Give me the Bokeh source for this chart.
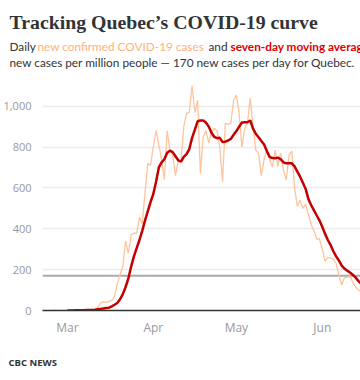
import pandas as pd
from bokeh.plotting import figure
from bokeh.layouts import column
from bokeh.models import Span, FixedTicker, DatetimeTickFormatter, Range1d, NumeralTickFormatter
from bokeh.core.properties import value
from bokeh.embed import file_html
from bokeh.resources import INLINE

# ---- data ----
daily_start = "2020-02-24"
avg_start = "2020-03-01"

daily_cases = [
    0, 0, 1, 1, 0, 1,
    0, 1, 0, 1, 2, 1, 2, 3, 4, 5,
    6, 15, 38, 42, 40, 45, 48, 70, 130, 175,
    215, 340, 280, 370, 378, 378, 456, 425, 575, 720,
    710, 800, 882, 810, 740, 640, 880, 784, 760, 660,
    735, 735, 900, 965, 970, 1100, 970, 1030, 671, 848,
    880, 820, 870, 892, 880, 800, 630, 917, 910, 917,
    1030, 1054, 960, 800, 890, 917, 1039, 900, 784, 770,
    660, 740, 784, 740, 701, 784, 705, 770, 686, 640,
    760, 780, 600, 510, 540, 500, 520, 470, 420, 390,
    350, 350, 300, 240, 260, 258, 250, 230, 175, 125,
    160, 162, 168, 140, 115, 100, 95,
]

moving_avg = [
    0, 0, 0, 1, 1, 1, 1, 2, 2, 3,
    4, 6, 8, 10, 12, 14, 20, 28, 37, 55,
    80, 115, 157, 215, 265, 305, 345, 390, 440, 485,
    530, 570, 630, 700, 725, 740, 772, 782, 775, 755,
    735, 728, 752, 765, 790, 845, 885, 926, 930, 930,
    920, 900, 870, 850, 843, 845, 824, 826, 832, 840,
    860, 878, 900, 920, 921, 921, 930, 890, 865, 848,
    830, 812, 780, 752, 746, 745, 748, 740, 725, 720,
    720, 720, 705, 680, 655, 625, 595, 545, 515, 490,
    465, 440, 410, 375, 345, 320, 290, 265, 245, 220,
    205, 195, 186, 175, 162, 145, 132,
]

threshold = 170
y_ticks = [0, 200, 400, 600, 800, 1000]
month_ticks = ["2020-03-01", "2020-04-01", "2020-05-01", "2020-06-01"]

title_text = "Tracking Quebec\u2019s COVID-19 curve"
sub1_parts = ["Daily", "new confirmed COVID-19 cases", "and", "seven-day moving average"]
sub2_text = "new cases per million people \u2014 170 new cases per day for Quebec."
source_text = "CBC NEWS"

daily_dates = pd.date_range(daily_start, periods=len(daily_cases), freq="D")
avg_dates = pd.date_range(avg_start, periods=len(moving_avg), freq="D")

W = 360
FONT = value("Open Sans")
SUBFONT = value("Lato")


def text_panel(height):
    f = figure(width=W, height=height, output_backend="svg", toolbar_location=None,
               x_range=Range1d(0, W), y_range=Range1d(height, 0),
               x_axis_location=None, y_axis_location=None,
               min_border=0, min_border_left=0, min_border_right=0,
               min_border_top=0, min_border_bottom=0)
    f.frame_align = False
    f.grid.visible = False
    f.outline_line_color = None
    f.background_fill_color = "white"
    f.border_fill_color = "white"
    return f


# ---- header ----
head = text_panel(70)
head.text(x=[9], y=[21], text=[title_text], text_font=value("Liberation Serif"),
          text_font_style="bold", text_font_size="19.8px", text_color="#333333",
          text_baseline="alphabetic")
sub_x = [9, 37, 208, 230]
sub_colors = ["#333333", "#ffb27a", "#333333", "#e00000"]
sub_styles = ["normal", "normal", "normal", "bold"]
for xx, tt, cc, ss in zip(sub_x, sub1_parts, sub_colors, sub_styles):
    head.text(x=[xx], y=[46], text=[tt], text_font=SUBFONT, text_font_size="11.8px",
              text_color=cc, text_font_style=ss, text_baseline="alphabetic")
head.text(x=[9], y=[62], text=[sub2_text], text_font=SUBFONT, text_font_size="11.8px",
          text_color="#333333", text_baseline="alphabetic")

# ---- chart ----
x0 = pd.Timestamp(avg_start)
p = figure(width=W, height=270, x_axis_type="datetime", output_backend="svg",
           toolbar_location=None, min_border_left=42, min_border_right=0,
           min_border_top=5, min_border_bottom=30,
           x_range=Range1d(x0 - pd.Timedelta(hours=9.0 * 24), x0 + pd.Timedelta(hours=105.8 * 24)),
           y_range=Range1d(0, 1150))
p.frame_align = False
p.outline_line_color = None
p.background_fill_color = "white"
p.border_fill_color = "white"

p.xaxis.ticker = FixedTicker(ticks=[pd.Timestamp(t).value / 1e6 for t in month_ticks])
p.xaxis.formatter = DatetimeTickFormatter(days="%b", months="%b", years="%b")
p.xaxis.axis_line_color = "#333333"
p.xaxis.axis_line_width = 1.5
p.xaxis.major_tick_line_color = None
p.xaxis.minor_tick_line_color = None
p.xaxis.major_label_standoff = 2
p.xaxis.major_label_text_font = "Open Sans"
p.xaxis.major_label_text_font_size = "12px"
p.xaxis.major_label_text_color = "#999999"

p.yaxis.ticker = FixedTicker(ticks=y_ticks)
p.yaxis.formatter = NumeralTickFormatter(format="0,0")
p.yaxis.axis_line_color = None
p.yaxis.major_tick_line_color = None
p.yaxis.minor_tick_line_color = None
p.yaxis.major_label_standoff = 5
p.yaxis.major_label_text_font = "Open Sans"
p.yaxis.major_label_text_font_size = "11px"
p.yaxis.major_label_text_color = "#999999"

p.xgrid.grid_line_color = None
p.ygrid.ticker = FixedTicker(ticks=y_ticks[1:])
p.ygrid.grid_line_color = "#ebebeb"
p.ygrid.grid_line_width = 1.5

p.add_layout(Span(location=threshold, dimension="width", line_color="#aaaaaa",
                  line_width=2, level="underlay"))

p.line(daily_dates, daily_cases, line_color="#ffc49c", line_width=1.3)
p.line(avg_dates, moving_avg, line_color="#c40000", line_width=2.5)

# ---- footer ----
foot = text_panel(40)
foot.text(x=[8], y=[22], text=[source_text], text_font=FONT, text_font_style="bold",
          text_font_size="9.5px", text_color="#333333", text_baseline="alphabetic")

layout = column(head, p, foot, spacing=0)
open("out.html", "w").write(file_html(layout, INLINE))
